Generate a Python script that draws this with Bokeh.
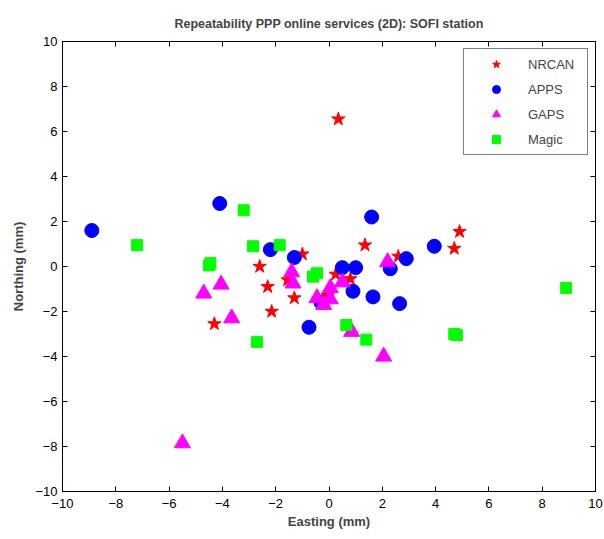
from bokeh.plotting import figure
from bokeh.models import LinearAxis, Legend, LegendItem, FixedTicker, Range1d
from bokeh.embed import file_html
from bokeh.resources import INLINE

# Data (mm)
nrcan_e = [0.35, 4.9, 4.7, 1.35, 2.6, -1.0, -2.6, -1.55, -2.3, -1.3, -2.15, -4.3, 0.25, 0.8, -0.05]
nrcan_n = [6.55, 1.55, 0.8, 0.95, 0.45, 0.55, 0.0, -0.6, -0.9, -1.4, -2.0, -2.55, -0.35, -0.55, -1.3]

apps_e = [-8.9, -4.1, 1.6, -2.2, -1.3, 3.95, 2.9, 2.3, 0.5, 1.0, 0.9, 1.65, 2.65, -0.3, -0.75]
apps_n = [1.6, 2.8, 2.2, 0.75, 0.4, 0.9, 0.35, -0.1, -0.05, -0.05, -1.1, -1.35, -1.65, -1.6, -2.7]

gaps_e = [-5.5, -4.05, -4.7, -3.65, -1.4, -1.35, 2.2, 0.5, 0.05, -0.45, 0.05, -0.2, 0.85, 2.05]
gaps_n = [-7.85, -0.8, -1.2, -2.3, -0.25, -0.75, 0.2, -0.7, -0.95, -1.4, -1.45, -1.7, -2.9, -4.0]

magic_e = [-3.2, -7.2, -2.85, -1.85, -4.45, -4.5, -0.45, -0.6, 8.9, 0.65, 1.4, -2.7, 4.7, 4.8]
magic_n = [2.5, 0.95, 0.9, 0.95, 0.15, 0.05, -0.3, -0.45, -0.95, -2.6, -3.25, -3.35, -3.0, -3.05]

ticks = list(range(-10, 11, 2))

FONT = "Liberation Sans"

p = figure(width=604, height=539, output_backend="svg", toolbar_location=None,
           x_range=Range1d(-10, 10), y_range=Range1d(-10, 10),
           min_border_left=62, min_border_right=9, min_border_top=41, min_border_bottom=48,
           x_axis_label="Easting (mm)", y_axis_label="Northing (mm)")
p.title.text = "Repeatability PPP online services (2D): SOFI station"
p.title.align = "center"
p.title.text_font = FONT
p.title.text_font_size = "12.5px"
p.title.text_font_style = "bold"
p.title.offset = 0
p.title.standoff = 22

p.grid.visible = False
p.outline_line_color = "black"
p.outline_line_width = 1

for ax in (p.xaxis[0], p.yaxis[0]):
    ax.ticker = FixedTicker(ticks=ticks)
    ax.minor_tick_line_color = None
    ax.major_tick_in = 5
    ax.major_tick_out = 0
    ax.major_label_text_font = FONT
    ax.major_label_text_font_size = "13px"
    ax.major_label_text_color = "black"
    ax.axis_label_text_font = FONT
    ax.axis_label_text_font_size = "13px"
    ax.axis_label_text_font_style = "bold"
    ax.axis_line_color = "black"
    ax.major_tick_line_color = "black"
p.xaxis.major_label_standoff = 7
p.yaxis.major_label_standoff = 5
p.xaxis.axis_label_standoff = 3
p.yaxis.axis_label_standoff = 6

# MATLAB-style box ticks on top and right (no labels)
for loc in ("above", "right"):
    a = LinearAxis(ticker=FixedTicker(ticks=ticks))
    a.minor_tick_line_color = None
    a.major_tick_in = 5
    a.major_tick_out = 0
    a.major_label_overrides = {t: "" for t in ticks}
    a.major_label_standoff = 0
    a.axis_line_color = "black"
    a.major_tick_line_color = "black"
    p.add_layout(a, loc)

r1 = p.scatter(nrcan_e, nrcan_n, marker="star", size=14, fill_color="#FF0000", line_color="#FF0000")
r2 = p.scatter(apps_e, apps_n, marker="circle", size=14, fill_color="#0000FF", line_color="#0000FF")
r3 = p.scatter(gaps_e, gaps_n, marker="triangle", size=16, fill_color="#FF00FF", line_color="#FF00FF")
r4 = p.scatter(magic_e, magic_n, marker="square", size=11, fill_color="#00FF00", line_color="#00FF00")

legend = Legend(items=[LegendItem(label="NRCAN", renderers=[r1]),
                       LegendItem(label="APPS", renderers=[r2]),
                       LegendItem(label="GAPS", renderers=[r3]),
                       LegendItem(label="Magic", renderers=[r4])],
                location="top_right")
legend.margin = 7
legend.padding = 5
legend.spacing = 5
legend.glyph_width = 54
legend.glyph_height = 20
legend.label_height = 20
legend.label_width = 54
legend.label_standoff = 5
legend.label_text_font = FONT
legend.label_text_font_size = "13px"
legend.border_line_color = "black"
legend.border_line_width = 1
legend.background_fill_alpha = 1
p.add_layout(legend, "center")

open("out.html", "w").write(file_html(p, INLINE))
